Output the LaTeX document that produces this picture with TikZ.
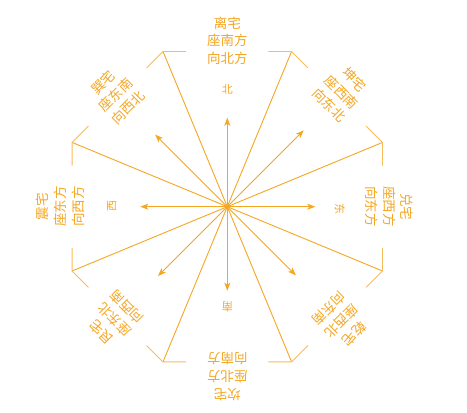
\documentclass[tikz,border=0pt]{standalone}
\usepackage{fontspec}
\newfontfamily\cjk{Noto Sans CJK SC}
\usepackage{tikz}
\usetikzlibrary{arrows.meta,calc}
\definecolor{zhai}{RGB}{245,166,35}

\begin{document}
\begin{tikzpicture}[x=1pt,y=1pt,
        ray/.style={draw=zhai,line width=0.9pt},
        rim/.style={draw=zhai!75,line width=0.9pt},
        arr/.style={draw=zhai,line width=0.9pt,-{Stealth[length=8pt,width=6pt,inset=2pt]}},
        dirlabel/.style={text=zhai,inner sep=0pt,font={\cjk\fontsize{11}{13}\selectfont}},
        house/.style={text=zhai,inner sep=0pt,align=center,font={\cjk\fontsize{13.5}{17.7}\selectfont}}]
    \useasboundingbox (-227.3,-206.3) rectangle (239.7,206.7);
    \coordinate (o) at (0,0);
    \foreach \k in {1,...,8}
        \coordinate (c\k) at ({45*\k-22.5}:168);
    \foreach \k in {1,...,8}
        \draw[ray] (o) -- (c\k);
    \foreach \k [evaluate=\k as \n using {int(mod(\k,8)+1)},
                 evaluate=\k as \p using {int(mod(\k+6,8)+1)}] in {1,...,8}
        \draw[rim] ($(c\k)!0.18!(c\p)$) -- (c\k) -- ($(c\k)!0.18!(c\n)$);
    \foreach \a/\l in {0/88,45/108,90/89,135/102,180/87,225/98,270/84,315/97} {
        \coordinate (t\a) at (\a:\l);
        \draw[arr] (o) -- (t\a);
    }
    \node[dirlabel] (bei) at (0,117.4) {北};
    \node[dirlabel,rotate=-90] (dong) at (112.7,-2.6) {东};
    \node[dirlabel,rotate=180] (nan) at (0,-100) {南};
    \node[dirlabel,rotate=90] (xi) at (-115.6,0.7) {西};
    \foreach \a/\r/\nm/\t in {90/166/li/{离宅\\座南方\\向北方},
                              45/162/kun/{坤宅\\座西南\\向东北},
                              0/162/dui/{兑宅\\座西方\\向东方},
                              315/162/qian/{乾宅\\座西北\\向东南},
                              270/170/kan/{坎宅\\座北方\\向南方},
                              225/160/gen/{艮宅\\座东北\\向西南},
                              180/167/zhen/{震宅\\座东方\\向西方},
                              135/158/xun/{巽宅\\座东南\\向西北}}
        \node[house,rotate=\a-90] (\nm) at (\a:\r) {\t};
\end{tikzpicture}
\end{document}
